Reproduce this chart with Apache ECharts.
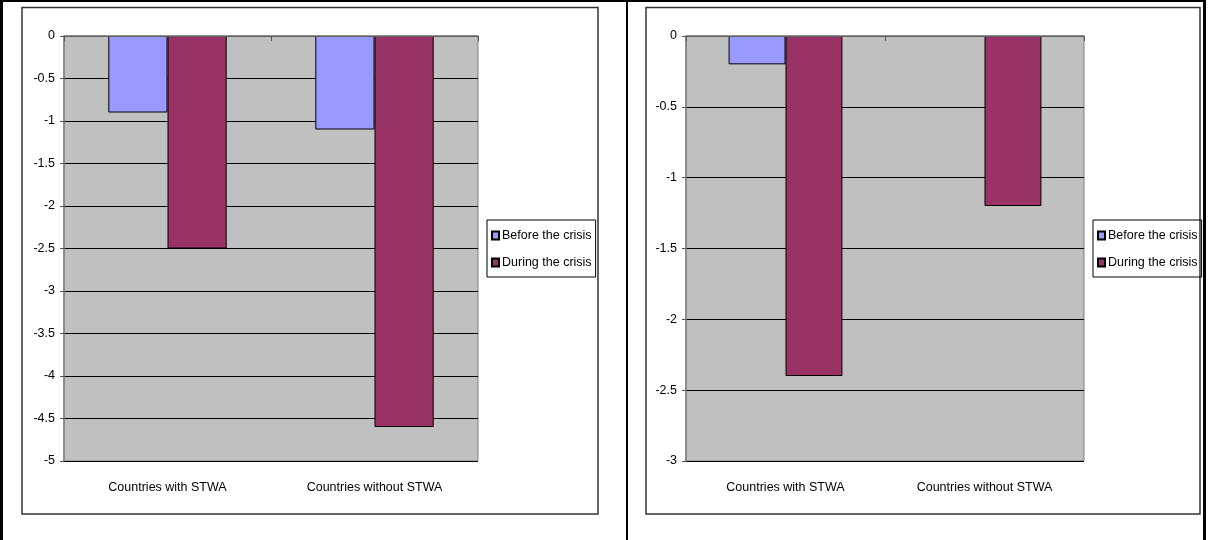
<!DOCTYPE html>
<html>
<head>
<meta charset="utf-8">
<style>
html,body{margin:0;padding:0;background:#fff;}
#c{width:1213px;height:540px;}
</style>
<script src="https://cdn.jsdelivr.net/npm/echarts@6/dist/echarts.min.js"></script>
</head>
<body>
<div id="c"></div>
<script>
const categories = ['Countries with STWA', 'Countries without STWA'];
const seriesNames = ['Before the crisis', 'During the crisis'];
const leftBefore = [-0.9, -1.1];
const leftDuring = [-2.5, -4.6];
const rightBefore = [-0.2, 0];
const rightDuring = [-2.4, -1.2];
const leftTicks = {min: -5, max: 0, interval: 0.5};
const rightTicks = {min: -3, max: 0, interval: 0.5};

const FONT = '"Liberation Sans", Arial, sans-serif';
const FS = 12.5;
const colors = ['#9999FF', '#993366'];

const chart = echarts.init(document.getElementById('c'), null, {renderer: 'canvas'});

function grid(left, width) {
  return {left: left, top: 36, width: width, height: 425, show: true,
    backgroundColor: '#C0C0C0', borderColor: '#808080', borderWidth: 1, containLabel: false};
}
function topAxis(gi) {
  return {type: 'category', data: categories, gridIndex: gi, position: 'top', z: 5,
    axisLine: {show: true, onZero: false, lineStyle: {color: '#808080', width: 1.5}},
    axisTick: {show: true, inside: true, length: 5, lineStyle: {color: '#555'}},
    axisLabel: {show: false}, splitLine: {show: false}};
}
function bottomAxis(gi) {
  return {type: 'category', data: categories, gridIndex: gi, position: 'bottom',
    axisLine: {show: false, onZero: false}, axisTick: {show: false},
    axisLabel: {show: true, margin: 20, color: '#000', fontFamily: FONT, fontSize: FS},
    splitLine: {show: false}};
}
function yAxis(gi, t) {
  return {type: 'value', gridIndex: gi, min: t.min, max: t.max, interval: t.interval,
    axisLine: {show: true, lineStyle: {color: '#808080', width: 1.5}},
    axisTick: {show: true, length: 4, lineStyle: {color: '#555'}},
    axisLabel: {color: '#000', fontFamily: FONT, fontSize: FS, margin: 9},
    splitLine: {show: true, lineStyle: {color: '#000', width: 1}}};
}
function bar(name, data, xi, yi, ci) {
  // zero-height bars are drawn without an outline (as in the original)
  const items = data.map(v => v === 0 ? {value: v, itemStyle: {borderWidth: 0}} : v);
  return {name: name, type: 'bar', data: items, xAxisIndex: xi, yAxisIndex: yi,
    barWidth: '28.6%', barGap: '0%',
    itemStyle: {color: colors[ci], borderColor: '#000', borderWidth: 1},
    emphasis: {disabled: true}, silent: true, animation: false};
}
function legend(left, top) {
  return {data: seriesNames, orient: 'vertical', left: left, top: top,
    itemWidth: 7, itemHeight: 8, itemGap: 14, icon: 'rect',
    padding: [9, 4, 8, 4], borderColor: '#000', borderWidth: 1,
    textStyle: {fontFamily: FONT, fontSize: FS, color: '#000', padding: [0, 0, 0, -2]},
    selectedMode: false};
}

chart.setOption({
  animation: false,
  grid: [grid(64, 414), grid(686, 398)],
  xAxis: [topAxis(0), bottomAxis(0), topAxis(1), bottomAxis(1)],
  yAxis: [yAxis(0, leftTicks), yAxis(1, rightTicks)],
  legend: [legend(487, 220), legend(1093, 220)],
  series: [
    bar(seriesNames[0], leftBefore, 1, 0, 0),
    bar(seriesNames[1], leftDuring, 1, 0, 1),
    bar(seriesNames[0], rightBefore, 3, 1, 0),
    bar(seriesNames[1], rightDuring, 3, 1, 1)
  ],
  graphic: [
    {type: 'rect', shape: {x: 0, y: 0, width: 1206, height: 2}, style: {fill: '#000'}, silent: true},
    {type: 'rect', shape: {x: 0, y: 0, width: 3, height: 540}, style: {fill: '#000'}, silent: true},
    {type: 'rect', shape: {x: 626, y: 0, width: 2, height: 540}, style: {fill: '#000'}, silent: true},
    {type: 'rect', shape: {x: 1203, y: 0, width: 3, height: 540}, style: {fill: '#000'}, silent: true},
    {type: 'rect', shape: {x: 22, y: 7.5, width: 576, height: 506.5}, style: {fill: 'none', stroke: '#333', lineWidth: 1.5}, silent: true},
    {type: 'rect', shape: {x: 646, y: 7.5, width: 554, height: 506.5}, style: {fill: 'none', stroke: '#333', lineWidth: 1.5}, silent: true}
  ]
});
</script>
</body>
</html>
